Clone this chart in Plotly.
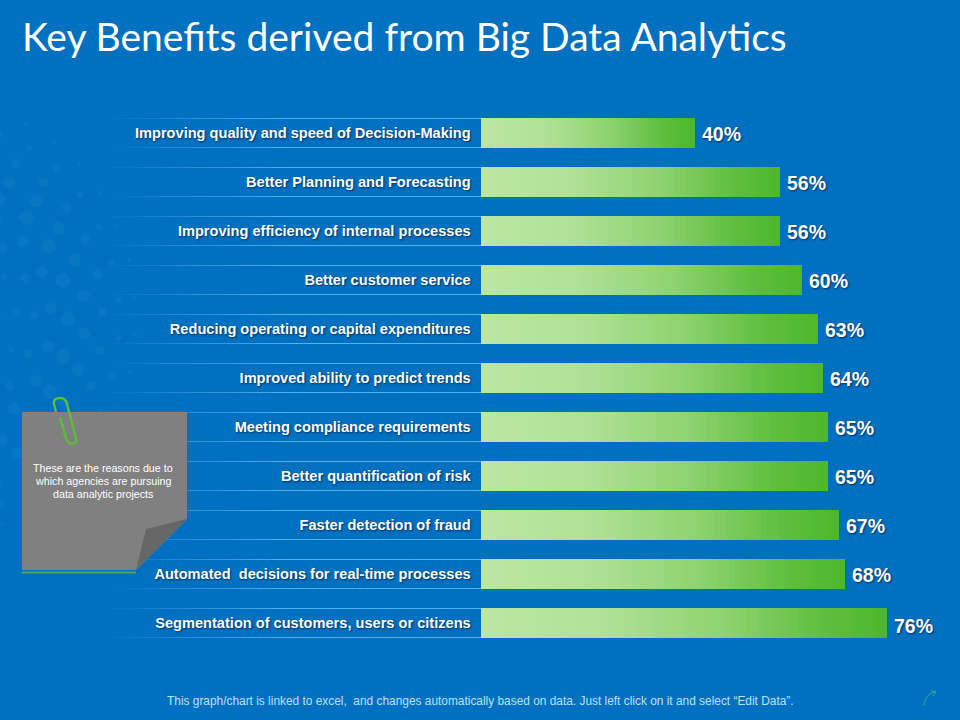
import math
import numpy as np
import plotly.graph_objects as go

title = "Key Benefits derived from Big Data Analytics"
footer = "This graph/chart is linked to excel,  and changes automatically based on data. Just left click on it and select \u201cEdit Data\u201d."
note_lines = ["These are the reasons due to", "which agencies are pursuing", "data analytic projects"]

categories = [
    "Improving quality and speed of Decision-Making",
    "Better Planning and Forecasting",
    "Improving efficiency of internal processes",
    "Better customer service",
    "Reducing operating or capital expenditures",
    "Improved ability to predict trends",
    "Meeting compliance requirements",
    "Better quantification of risk",
    "Faster detection of fraud",
    "Automated  decisions for real-time processes",
    "Segmentation of customers, users or citizens",
]
values = [40, 56, 56, 60, 63, 64, 65, 65, 67, 68, 76]

W, H = 960, 720
BG = "#0070C0"
n_steps = 60
shadow = "1px 1px 2px rgba(0,30,70,0.8)"

# gradient stops, left end of a bar to right end
stop_pos = [0, 0.3, 0.6, 0.85, 1]
stop_rgb = [(186, 231, 163), (176, 225, 150), (143, 211, 112), (95, 191, 64), (79, 183, 43)]


def step_color(t):
    r, g, b = [np.interp(t, stop_pos, [c[i] for c in stop_rgb]) for i in range(3)]
    return f"rgb({r:.0f},{g:.0f},{b:.0f})"


def px(x):
    return x / W


def py(y):
    return 1 - y / H


def path(cmds):
    # cmds are pixel positions, turned into paper fractions
    out = []
    for c, pts in cmds:
        out.append(c + " ".join(f"{px(x):.5f},{py(y):.5f}" for x, y in pts))
    return " ".join(out)


fig = go.Figure()

# bars are stacked thin steps, that gives the left-to-right gradient
for s in range(n_steps):
    fig.add_trace(go.Bar(
        y=categories,
        x=[v / n_steps for v in values],
        orientation="h",
        marker=dict(color=step_color(s / (n_steps - 1)), line=dict(width=0)),
        hoverinfo="skip",
        showlegend=False,
    ))

shapes = []

# halftone dots in the background
cx, cy = -40, 320
for r in range(40, 190, 17):
    count = int(r / 5)
    for k in range(count):
        a = 2 * math.pi * k / count + r
        x = cx + r * math.cos(a)
        y = cy + r * math.sin(a) * 1.2
        rad = max(1.0, 7.5 - abs(r - 110) * 0.085)
        if x < -8:
            continue
        shapes.append(dict(type="circle", xref="paper", yref="paper", layer="below",
                           x0=px(x - rad), x1=px(x + rad), y0=py(y + rad), y1=py(y - rad),
                           fillcolor="rgba(120,190,240,0.08)", line=dict(width=0)))

# thin lines above and below each label, fading to the left
fade_steps = 12
line_left, line_right, line_solid = 110, 481, 300
half_band = 14.5 / 49
line_rgb = "90,175,240"
for i in range(len(categories)):
    for side in (-1, 1):
        for j in range(fade_steps):
            x0 = line_left + (line_solid - line_left) * j / fade_steps
            x1 = line_left + (line_solid - line_left) * (j + 1) / fade_steps
            shapes.append(dict(type="line", xref="paper", yref="y", layer="below",
                               x0=px(x0), x1=px(x1), y0=i + side * half_band, y1=i + side * half_band,
                               line=dict(color=f"rgba({line_rgb},{(j + 1) / fade_steps:.2f})", width=1)))
        shapes.append(dict(type="line", xref="paper", yref="y", layer="below",
                           x0=px(line_solid), x1=px(line_right), y0=i + side * half_band, y1=i + side * half_band,
                           line=dict(color=f"rgb({line_rgb})", width=1)))

# sticky note
shapes.append(dict(type="path", xref="paper", yref="paper", layer="above",
                   path=path([("M", [(22, 412)]), ("L", [(187, 412)]), ("L", [(187, 519)]),
                              ("L", [(136, 570)]), ("L", [(22, 570)])]) + " Z",
                   fillcolor="#808080", line=dict(width=0)))
shapes.append(dict(type="path", xref="paper", yref="paper", layer="above",
                   path=path([("M", [(187, 519)]), ("L", [(146, 529)]), ("L", [(136, 570)])]) + " Z",
                   fillcolor="#666666", line=dict(width=0)))
shapes.append(dict(type="line", xref="paper", yref="paper", layer="above",
                   x0=px(22), x1=px(136), y0=py(572.5), y1=py(572.5),
                   line=dict(color="#3FAE6A", width=2)))

# paper clip
clip = path([
    ("M", [(56, 412)]), ("L", [(54, 404)]),
    ("C", [(53, 400), (56, 398), (60, 398)]),
    ("C", [(64, 398), (66, 400), (67, 404)]),
    ("L", [(76, 438)]),
    ("C", [(77, 442), (75, 444), (72, 444)]),
    ("C", [(69, 444), (67, 442), (66, 438)]),
    ("L", [(60, 417)]),
])
shapes.append(dict(type="path", xref="paper", yref="paper", layer="above", path=clip,
                   line=dict(color="#5CBB3C", width=2.5)))

# little arrow bottom right
arrow = path([("M", [(924, 705)]), ("C", [(925, 698), (929, 693), (935, 692)]),
              ("M", [(931, 691)]), ("L", [(936, 691.5)]), ("L", [(933, 696)])])
shapes.append(dict(type="path", xref="paper", yref="paper", layer="above", path=arrow,
                   line=dict(color="#33B08A", width=1)))

annotations = [
    dict(text=footer, xref="paper", yref="paper", x=px(480.5), y=py(701), showarrow=False,
         xanchor="center", yanchor="middle",
         font=dict(family="Liberation Sans", size=11.9, color="#BFE0F8")),
]
for i, line in enumerate(note_lines):
    annotations.append(dict(text=line, xref="paper", yref="paper", x=px(103), y=py(468 + 13 * i),
                            showarrow=False, xanchor="center", yanchor="middle",
                            font=dict(family="Liberation Sans", size=10.7, color="white")))

# value labels, the last one sits a little lower in the reference
for i, (c, v) in enumerate(zip(categories, values)):
    annotations.append(dict(text=f"{v}%", x=v, y=c, xref="x", yref="y", showarrow=False,
                            xanchor="left", yanchor="middle", xshift=5,
                            yshift=-3 if i == len(values) - 1 else -1,
                            font=dict(family="Liberation Sans", size=19.5, color="white", weight=700,
                                      shadow=shadow)))

fig.update_layout(
    width=W,
    height=H,
    barmode="stack",
    bargap=1 - 30 / 49,
    margin=dict(l=0, r=0, t=0, b=0),
    paper_bgcolor=BG,
    plot_bgcolor="rgba(0,0,0,0)",
    title=dict(text=title, x=px(22), xref="paper", xanchor="left", y=py(37), yref="paper", yanchor="middle",
               font=dict(family="Lato", size=39, color="white")),
    shapes=shapes,
    annotations=annotations,
    xaxis=dict(domain=[px(480.7), 1], range=[0, 479.3 / 5.35], visible=False),
    yaxis=dict(domain=[py(647.5), py(108.5)], range=[10.5, -0.5], type="category",
               categoryorder="array", categoryarray=categories,
               showgrid=False, zeroline=False, showline=False, ticks="",
               ticklabelstandoff=9,
               tickfont=dict(family="Liberation Sans", size=14.6, color="white", weight=700,
                             shadow=shadow)),
)

fig.write_html("out.html", config=dict(displayModeBar=False),
               post_script="document.body.style.margin='0';document.body.style.overflow='hidden';")
